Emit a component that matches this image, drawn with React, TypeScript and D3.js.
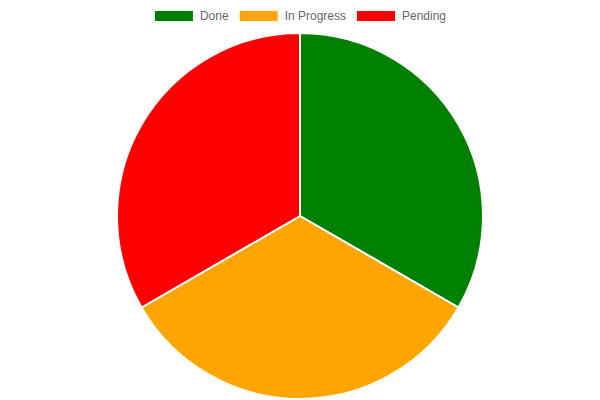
import { useEffect, useRef } from "react";
import * as d3 from "d3";

const labels = ["Done", "In Progress", "Pending"];
const counts = [1, 1, 1];
const colors = ["#008000", "#ffa500", "#ff0000"];

const App = () => {
  const svgRef = useRef<SVGSVGElement>(null);

  useEffect(() => {
    const width = 600;
    const height = 400;
    const svg = d3.select(svgRef.current);
    svg.selectAll("*").remove();
    svg.attr("width", width).attr("height", height).attr("viewBox", [0, 0, width, height]);

    const data = labels.map((l, i) => ({ label: l, value: counts[i], color: colors[i] }));

    const cx = 300;
    const cy = 216;
    const radius = 183;

    const pie = d3.pie<any>().value((d) => d.value).sort(null);
    const arc = d3.arc<any>().innerRadius(0).outerRadius(radius);

    svg.append("g")
      .attr("transform", `translate(${cx},${cy})`)
      .selectAll("path")
      .data(pie(data))
      .join("path")
        .attr("d", arc)
        .attr("fill", (d) => d.data.color)
        .attr("stroke", "#fff")
        .attr("stroke-width", 2)
        .attr("stroke-linejoin", "round");

    // legend, laid out like chart.js: box 40 + 6 + text, 10 padding
    const font = "12px 'Liberation Sans', Arial, sans-serif";
    const ctx = document.createElement("canvas").getContext("2d")!;
    ctx.font = font;
    const widths = data.map((d) => 40 + 6 + ctx.measureText(d.label).width);
    const total = d3.sum(widths) + 10 * (widths.length - 1);
    let x = (width - total) / 2 + 1;

    const legend = svg.append("g");
    data.forEach((d, i) => {
      legend.append("rect")
        .attr("x", x)
        .attr("y", 11)
        .attr("width", 38)
        .attr("height", 10)
        .attr("fill", d.color);
      legend.append("text")
        .attr("x", x + 45)
        .attr("y", 20)
        .attr("fill", "#666")
        .attr("font-family", "'Liberation Sans', Arial, sans-serif")
        .attr("font-size", 12)
        .text(d.label);
      x += widths[i] + 10;
    });
  }, []);

  return <svg ref={svgRef} style={{ position: "absolute", left: 0, top: 0 }}></svg>;
};

export default App;
